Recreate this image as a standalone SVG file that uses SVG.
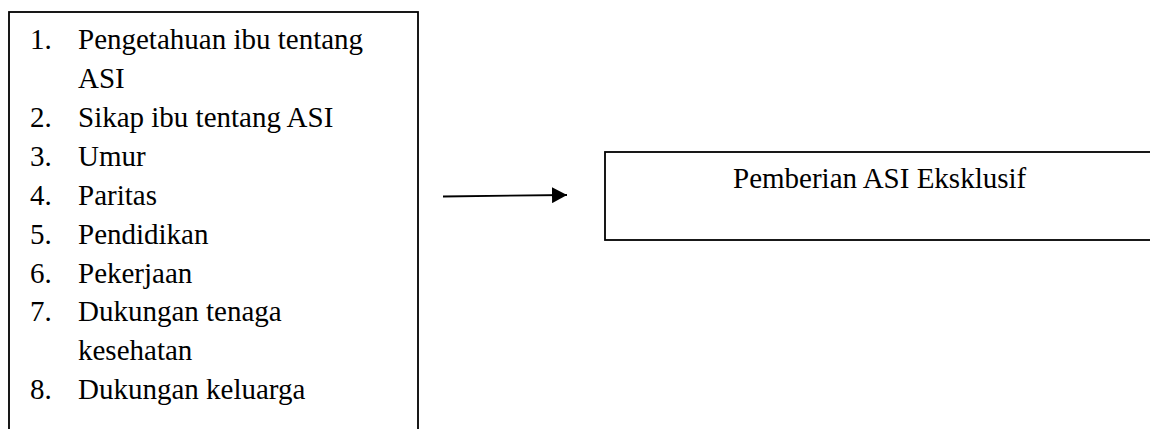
<svg xmlns="http://www.w3.org/2000/svg" width="1150" height="429" viewBox="0 0 1150 429">
  <style>
    .box { fill: #ffffff; stroke: #000000; stroke-width: 1.8; }
    .t { font-family: 'Liberation Serif', 'Times New Roman', Times, 'Nimbus Roman', 'DejaVu Serif', serif; font-size: 29px; fill: #000000; }
    .edge { stroke: #000000; stroke-width: 1.8; fill: none; }
  </style>
  <defs>
    <marker id="arrow" markerWidth="16" markerHeight="16" refX="15" refY="8" orient="auto" markerUnits="userSpaceOnUse">
      <path d="M0,0 L15,8 L0,16 Z" fill="#000000"/>
    </marker>
  </defs>
  <rect width="1150" height="429" fill="#ffffff"/>
  <g id="factors" font-family="'Liberation Serif', 'Times New Roman', Times, 'DejaVu Serif', serif">
    <rect class="box" x="9" y="12" width="409" height="430"/>
    <text class="t" x="30" y="49">1.</text><text class="t" x="78" y="49">Pengetahuan ibu tentang</text>
    <text class="t" x="78" y="88">ASI</text>
    <text class="t" x="30" y="127">2.</text><text class="t" x="78" y="127">Sikap ibu tentang ASI</text>
    <text class="t" x="30" y="166">3.</text><text class="t" x="78" y="166">Umur</text>
    <text class="t" x="30" y="205">4.</text><text class="t" x="78" y="205">Paritas</text>
    <text class="t" x="30" y="244">5.</text><text class="t" x="78" y="244">Pendidikan</text>
    <text class="t" x="30" y="283">6.</text><text class="t" x="78" y="283">Pekerjaan</text>
    <text class="t" x="30" y="321">7.</text><text class="t" x="78" y="321">Dukungan tenaga</text>
    <text class="t" x="78" y="360">kesehatan</text>
    <text class="t" x="30" y="399">8.</text><text class="t" x="78" y="399">Dukungan keluarga</text>
  </g>
  <g id="outcome" font-family="'Liberation Serif', 'Times New Roman', Times, 'DejaVu Serif', serif">
    <rect class="box" x="605" y="152" width="560" height="88"/>
    <text class="t" x="733" y="188">Pemberian ASI Eksklusif</text>
  </g>
  <g id="connectors">
    <line class="edge" x1="443" y1="196.5" x2="567" y2="195" marker-end="url(#arrow)"/>
  </g>
</svg>
